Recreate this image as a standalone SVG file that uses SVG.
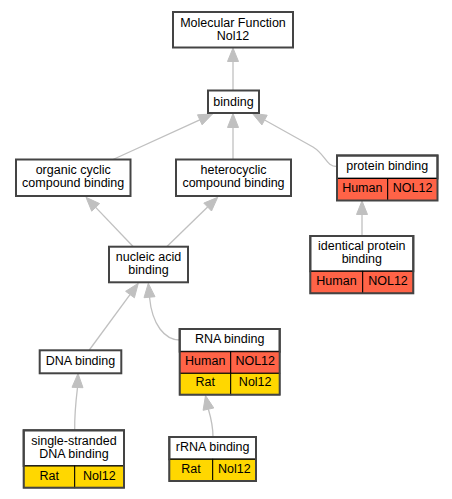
<svg xmlns="http://www.w3.org/2000/svg" width="452" height="499" viewBox="0 0 452 499">
<style>
text{font-family:"Liberation Sans",Arial,sans-serif;font-size:12.5px;fill:#000;text-anchor:middle}
.box{fill:#fff;stroke:#444;stroke-width:2}
.frame{fill:none;stroke:#444;stroke-width:2}
.hu{fill:#ff6347;stroke:#000;stroke-width:1}
.rt{fill:#ffd700;stroke:#000;stroke-width:1}
.e{fill:none;stroke:#c0c0c0;stroke-width:1.3}
.ah{fill:#c0c0c0;stroke:#c0c0c0;stroke-width:1}
</style>
<rect width="452" height="499" fill="#fff"/>
<g id="edges">
<path class="e" d="M233,90.5 L233,61.5"/><polygon class="ah" points="233,48 227.5,61.5 238.5,61.5"/>
<path class="e" d="M113,159.5 L199.8,119.8"/><polygon class="ah" points="212.5,114 202.1,124.8 197.5,114.8"/>
<path class="e" d="M233,159.5 L233,127.5"/><polygon class="ah" points="233,113.5 227.5,127.5 238.5,127.5"/>
<path class="e" d="M337,166.5 C326,166.5 326,155 313,147 L264.6,120"/><polygon class="ah" points="252.3,113.3 267.2,115.2 261.9,124.9"/>
<path class="e" d="M362,236 L362,214.5"/><polygon class="ah" points="362,200.8 356.5,214.5 367.5,214.5"/>
<path class="e" d="M133.3,246.7 L95.7,207.4"/><polygon class="ah" points="86,197.3 99.6,203.6 91.7,211.2"/>
<path class="e" d="M166.7,246.7 L207.6,207"/><polygon class="ah" points="217.7,197.3 211.5,211 203.8,203.1"/>
<path class="e" d="M89.3,350 L130,294.6"/><polygon class="ah" points="138.3,283.3 134.4,297.8 125.6,291.3"/>
<path class="e" d="M179.7,340 C165,340 152,325 149.5,297"/><polygon class="ah" points="148.3,283.3 155,296.7 144,297.7"/>
<path class="e" d="M74.7,430 C74.5,415 76,400 77.5,387.5"/><polygon class="ah" points="78,373.5 83,387.7 72,387.3"/>
<path class="e" d="M213,437 C213,425 211,418 208.4,409.2"/><polygon class="ah" points="205.5,395.5 213.8,408 203.1,410.3"/>
</g>
<g id="mf">
<rect class="box" x="173" y="12" width="120" height="35.5"/>
<text x="233" y="26.5">Molecular Function</text>
<text x="233" y="39.5">Nol12</text>
</g>
<g id="binding">
<rect class="box" x="208" y="90.5" width="51" height="22.5"/>
<text x="233.5" y="105.5">binding</text>
</g>
<g id="organic">
<rect class="box" x="16" y="159.5" width="114.5" height="36.5"/>
<text x="73.2" y="174">organic cyclic</text>
<text x="73.2" y="187">compound binding</text>
</g>
<g id="hetero">
<rect class="box" x="176" y="159.5" width="115" height="36.5"/>
<text x="233.5" y="174">heterocyclic</text>
<text x="233.5" y="187">compound binding</text>
</g>
<g id="protein">
<rect class="box" x="337" y="155.5" width="100.5" height="23"/>
<rect class="hu" x="337" y="178.5" width="50.7" height="22"/>
<rect class="hu" x="387.7" y="178.5" width="49.8" height="22"/>
<rect class="frame" x="337" y="155.5" width="100.5" height="45"/>
<text x="387.2" y="170">protein binding</text>
<text x="362.3" y="191.7">Human</text>
<text x="412.6" y="191.7">NOL12</text>
</g>
<g id="identical">
<rect class="box" x="310.3" y="236" width="103" height="35.3"/>
<rect class="hu" x="310.3" y="271.3" width="52.4" height="22"/>
<rect class="hu" x="362.7" y="271.3" width="50.6" height="22"/>
<rect class="frame" x="310.3" y="236" width="103" height="57.3"/>
<text x="361.8" y="249.7">identical protein</text>
<text x="361.8" y="262.5">binding</text>
<text x="336.5" y="285">Human</text>
<text x="388" y="285">NOL12</text>
</g>
<g id="nucleic">
<rect class="box" x="109" y="246.7" width="79" height="35.6"/>
<text x="148.5" y="261">nucleic acid</text>
<text x="148.5" y="274">binding</text>
</g>
<g id="rna">
<rect class="box" x="179.7" y="329" width="100" height="22.7"/>
<rect class="hu" x="179.7" y="351.7" width="51" height="21.6"/>
<rect class="hu" x="230.7" y="351.7" width="49" height="21.6"/>
<rect class="rt" x="179.7" y="373.3" width="51" height="21.4"/>
<rect class="rt" x="230.7" y="373.3" width="49" height="21.4"/>
<rect class="frame" x="179.7" y="329" width="100" height="65.7"/>
<text x="229.7" y="343">RNA binding</text>
<text x="205.2" y="364.7">Human</text>
<text x="255.2" y="364.7">NOL12</text>
<text x="205.2" y="386.3">Rat</text>
<text x="255.2" y="386.3">Nol12</text>
</g>
<g id="dna">
<rect class="box" x="39.7" y="350.3" width="81.6" height="23"/>
<text x="80.5" y="364.7">DNA binding</text>
</g>
<g id="ssdna">
<rect class="box" x="23.7" y="430.3" width="100.3" height="35.7"/>
<rect class="rt" x="23.7" y="466" width="51" height="21.7"/>
<rect class="rt" x="74.7" y="466" width="49.3" height="21.7"/>
<rect class="frame" x="23.7" y="430.3" width="100.3" height="57.4"/>
<text x="73.9" y="445">single-stranded</text>
<text x="73.9" y="457.7">DNA binding</text>
<text x="49.2" y="480">Rat</text>
<text x="99.4" y="480">Nol12</text>
</g>
<g id="rrna">
<rect class="box" x="169.3" y="437" width="86.7" height="22.3"/>
<rect class="rt" x="169.3" y="459.3" width="43.4" height="21.7"/>
<rect class="rt" x="212.7" y="459.3" width="43.3" height="21.7"/>
<rect class="frame" x="169.3" y="437" width="86.7" height="44"/>
<text x="212.7" y="451">rRNA binding</text>
<text x="191" y="473">Rat</text>
<text x="234.4" y="473">Nol12</text>
</g>
</svg>
